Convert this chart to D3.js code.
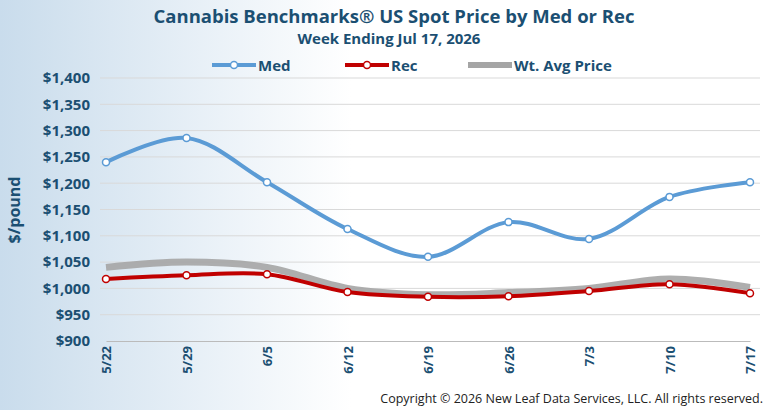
<!DOCTYPE html>
<html><head><meta charset="utf-8">
<script src="https://cdn.jsdelivr.net/npm/d3@7"></script>
<style>body{margin:0;}svg{display:block;font-family:"Open Sans",sans-serif;}</style>
</head><body>
<svg id="c" width="780" height="410"></svg>
<script>
const categories = ["5/22","5/29","6/5","6/12","6/19","6/26","7/3","7/10","7/17"];
const medValues = [1240,1286,1202,1113,1060,1126,1094,1174,1202];
const recValues = [1018,1025,1027,993,984,985,995,1008,991];
const avgValues = [1040,1050,1040,1000,988,992,1000,1018,1002];
const yTicks = [900,950,1000,1050,1100,1150,1200,1250,1300,1350,1400];

const svg = d3.select("#c");
const defs = svg.append("defs");
const g = defs.append("linearGradient").attr("id","bg").attr("x1","0").attr("x2","1");
g.append("stop").attr("offset","0").attr("stop-color","#c9dcec");
g.append("stop").attr("offset","0.45").attr("stop-color","#ffffff");
svg.append("rect").attr("width",780).attr("height",410).attr("fill","url(#bg)");

const x = d3.scalePoint().domain(categories).range([106,750]);
const y = d3.scaleLinear().domain([900,1400]).range([341,78]);

const titleColor = "#1b4f72";
svg.append("text").attr("x",394).attr("y",23).attr("text-anchor","middle").attr("font-size",18.5).attr("font-weight","bold").attr("fill",titleColor).text("Cannabis Benchmarks® US Spot Price by Med or Rec");
svg.append("text").attr("x",389).attr("y",44).attr("text-anchor","middle").attr("font-size",15).attr("font-weight","bold").attr("fill",titleColor).text("Week Ending Jul 17, 2026");

// gridlines
svg.append("g").selectAll("line").data(yTicks.slice(1)).enter().append("line")
  .attr("x1",100).attr("x2",760).attr("y1",d=>y(d)).attr("y2",d=>y(d)).attr("stroke","#d9d9d9").attr("stroke-width",1);

// y axis
const ya = svg.append("g").attr("transform","translate(93,0)").call(d3.axisLeft(y).tickValues(yTicks).tickSize(0).tickFormat(d=>"$"+d3.format(",")(d)));
ya.select(".domain").remove();
ya.selectAll("text").attr("font-size",15).attr("font-weight","bold").attr("fill",titleColor).attr("font-family","'Open Sans',sans-serif");
svg.append("text").attr("transform","translate(20,210) rotate(-90)").attr("text-anchor","middle").attr("font-size",16).attr("font-weight","bold").attr("fill",titleColor).text("$/pound");

// x axis
const xa = svg.append("g").attr("transform","translate(0,341)").call(d3.axisBottom(x).tickSize(0));
xa.select(".domain").attr("stroke","#bbb");
xa.selectAll("text").attr("font-size",13).attr("font-weight","bold").attr("fill",titleColor).attr("font-family","'Open Sans',sans-serif")
  .attr("transform","rotate(-90)").attr("text-anchor","end").attr("x",-5).attr("y",0).attr("dy","0.35em");

const line = d3.line().x((d,i)=>x(categories[i])).y(d=>y(d)).curve(d3.curveCatmullRom.alpha(0.5));
svg.append("path").attr("d",line(avgValues)).attr("fill","none").attr("stroke","#a5a5a5").attr("stroke-width",7).attr("opacity",0.9);
svg.append("path").attr("d",line(recValues)).attr("fill","none").attr("stroke","#c00000").attr("stroke-width",4);
svg.append("path").attr("d",line(medValues)).attr("fill","none").attr("stroke","#5b9bd5").attr("stroke-width",4);
[[medValues,"#5b9bd5"],[recValues,"#c00000"]].forEach(([vals,col])=>{
  svg.selectAll(null).data(vals).enter().append("circle").attr("cx",(d,i)=>x(categories[i])).attr("cy",d=>y(d)).attr("r",3.5).attr("fill","#fff").attr("stroke",col).attr("stroke-width",1.5);
});

// legend
const legend = [["Med","#5b9bd5",212,true],["Rec","#c00000",345,true],["Wt. Avg Price","#a5a5a5",468,false]];
legend.forEach(([name,col,lx,dot])=>{
  svg.append("line").attr("x1",lx).attr("x2",lx+44).attr("y1",65).attr("y2",65).attr("stroke",col).attr("stroke-width",dot?4:6);
  if(dot) svg.append("circle").attr("cx",lx+22).attr("cy",65).attr("r",3.5).attr("fill","#fff").attr("stroke",col).attr("stroke-width",1.5);
  svg.append("text").attr("x",lx+46).attr("y",71).attr("font-size",15).attr("font-weight","bold").attr("fill",titleColor).text(name);
});

svg.append("text").attr("x",763).attr("y",403).attr("text-anchor","end").attr("font-size",12.5).attr("fill","#222").text("Copyright © 2026 New Leaf Data Services, LLC. All rights reserved.");
</script>
</body></html>
